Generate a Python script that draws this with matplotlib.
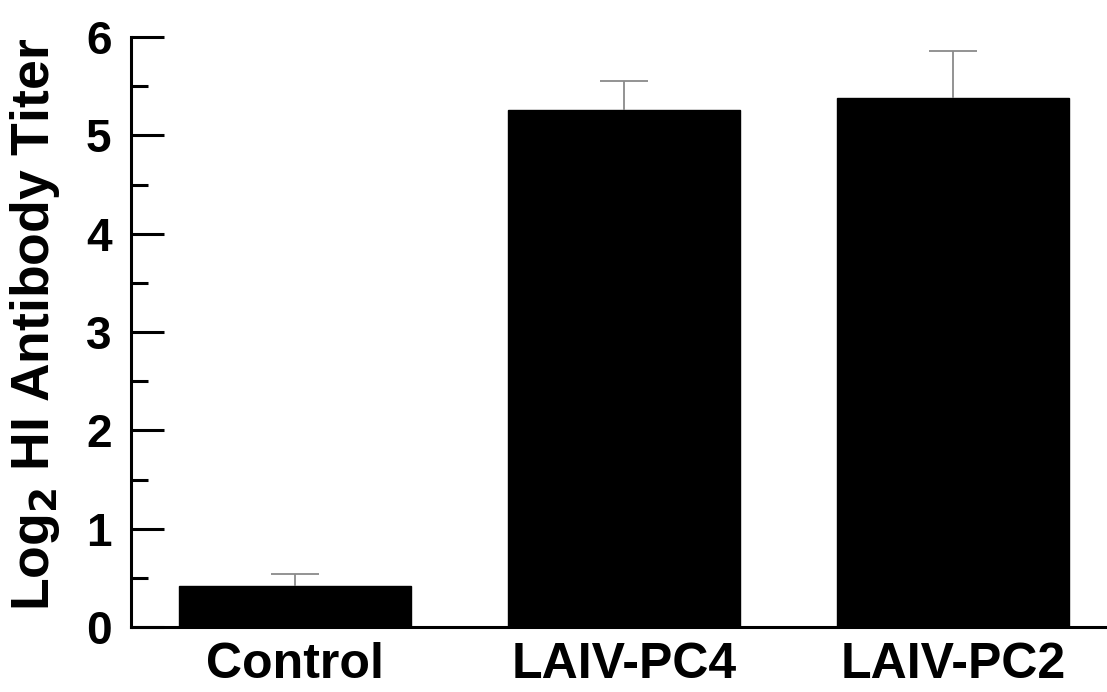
import matplotlib
matplotlib.use("Agg")
import matplotlib.pyplot as plt
from matplotlib.ticker import MultipleLocator

# values
groups = ["Control", "LAIV-PC4", "LAIV-PC2"]
titer_mean = [0.42, 5.26, 5.38]
titer_err = [0.12, 0.29, 0.48]

plt.rcParams["font.family"] = ["Liberation Sans", "DejaVu Sans"]
plt.rcParams["font.weight"] = "bold"

fig = plt.figure(figsize=(11.07, 6.92), dpi=100)
ax = fig.add_axes([0.1183, 0.0939, 0.8817, 0.8526])

x = list(range(len(groups)))
ax.bar(x, titer_mean, width=0.705, color="black", edgecolor="black", zorder=2)

# upper error bars only
eb = ax.errorbar(x, titer_mean, yerr=[[0] * len(groups), titer_err], fmt="none",
                 ecolor="#8a8a8a", elinewidth=1.3, capsize=17.5, capthick=1.3,
                 zorder=3)
eb[1][0].set_visible(False)

ax.set_xlim(-0.498, 2.467)
ax.set_ylim(0, 6)
ax.set_xticks(x)
ax.set_xticklabels(groups, fontsize=36, fontweight="bold")
ax.yaxis.set_major_locator(MultipleLocator(1))
ax.yaxis.set_minor_locator(MultipleLocator(0.5))
ax.tick_params(axis="y", which="major", direction="in", length=24, width=2.2,
               labelsize=33, pad=14)
ax.tick_params(axis="y", which="minor", direction="in", length=12, width=2.2)
ax.tick_params(axis="x", length=0, pad=11)
for lab in ax.get_yticklabels():
    lab.set_fontweight("bold")

ax.set_ylabel(r"Log$_\mathbf{2}$ HI Antibody Titer", fontsize=38.5, fontweight="bold")
ax.yaxis.set_label_coords(-0.071, 0.513)

ax.spines["top"].set_visible(False)
ax.spines["right"].set_visible(False)
ax.spines["left"].set_linewidth(2.2)
ax.spines["bottom"].set_linewidth(2.2)

fig.savefig("out.png", dpi=100)
